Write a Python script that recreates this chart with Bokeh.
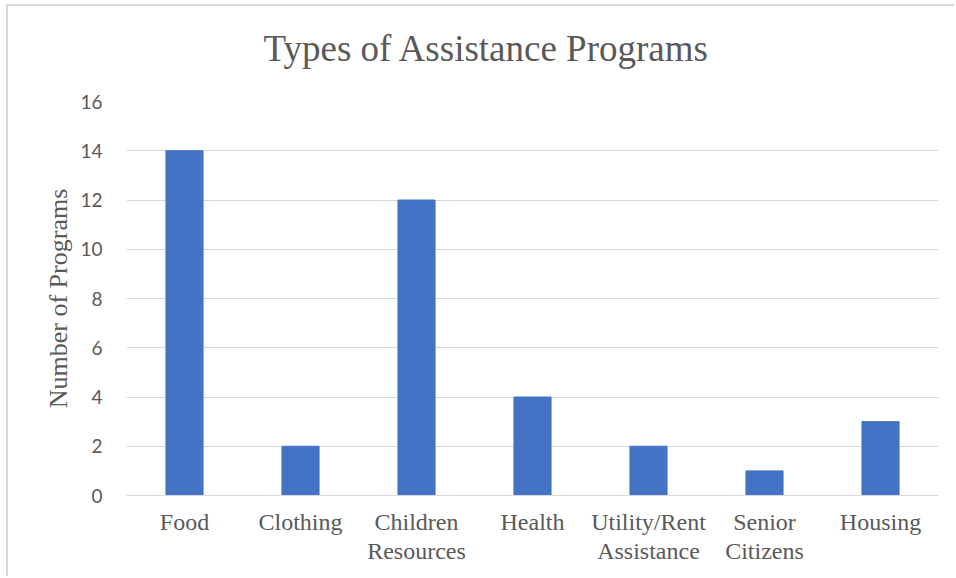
from bokeh.plotting import figure
from bokeh.embed import file_html
from bokeh.resources import INLINE
from bokeh.models import ColumnDataSource, Range1d, FixedTicker, CategoricalAxis, FactorRange

categories = ["Food", "Clothing", "Children Resources", "Health",
              "Utility/Rent Assistance", "Senior Citizens", "Housing"]
label_line1 = ["Food", "Clothing", "Children", "Health",
               "Utility/Rent", "Senior", "Housing"]
label_line2 = ["", "", "Resources", "", "Assistance", "Citizens", ""]
counts = [14, 2, 12, 4, 2, 1, 3]

# blank second-line labels must still be unique factors
line2_factors = [t if t else " " * (i + 1) for i, t in enumerate(label_line2)]

src = ColumnDataSource(dict(cat=categories, val=counts))

p = figure(x_range=FactorRange(*categories), y_range=Range1d(0, 16),
           x_axis_location=None,
           width=948, height=572, output_backend="svg", toolbar_location=None,
           min_border_left=118, min_border_right=18, min_border_top=95,
           min_border_bottom=83)
p.extra_x_ranges = {"l1": FactorRange(*label_line1), "l2": FactorRange(*line2_factors)}
p.styles = {"border-left": "2px solid #d9d9d9", "border-top": "2px solid #d9d9d9",
            "margin-left": "6px", "margin-top": "4px"}
p.vbar(x="cat", top="val", width=0.32, source=src, color="#4472C4")

p.title.text = "Types of Assistance Programs"
p.title.text_font = "Liberation Serif"
p.title.text_font_size = "37px"
p.title.text_font_style = "normal"
p.title.text_color = "#595959"
p.title.align = "left"
p.title.vertical_align = "top"
p.title.padding = dict(top=0, bottom=31, left=20, right=20)
p.title.offset = 117
p.title.standoff = 0

p.outline_line_color = None
p.xgrid.grid_line_color = None
p.ygrid.grid_line_color = "#d9d9d9"
p.ygrid.grid_line_width = 1

p.yaxis.ticker = FixedTicker(ticks=list(range(0, 17, 2)))
p.yaxis.axis_line_color = None
p.yaxis.major_tick_line_color = None
p.yaxis.minor_tick_line_color = None
p.yaxis.major_label_text_font = "Lato"
p.yaxis.major_label_text_font_size = "19px"
p.yaxis.major_label_text_color = "#595959"
p.yaxis.major_label_standoff = 18
p.yaxis.axis_label = "Number of Programs"
p.yaxis.axis_label_text_font = "Liberation Serif"
p.yaxis.axis_label_text_font_size = "26px"
p.yaxis.axis_label_text_font_style = "normal"
p.yaxis.axis_label_text_color = "#595959"
p.yaxis.axis_label_standoff = 4


def make_axis(rng, standoff, line_color):
    ax = CategoricalAxis(x_range_name=rng)
    ax.axis_line_color = line_color
    ax.major_tick_line_color = None
    ax.minor_tick_line_color = None
    ax.major_label_text_font = "Liberation Serif"
    ax.major_label_text_font_size = "24px"
    ax.major_label_text_color = "#595959"
    ax.major_label_standoff = standoff
    ax.major_label_orientation = "horizontal"
    return ax


p.add_layout(make_axis("l1", 7, "#d9d9d9"), "below")
p.add_layout(make_axis("l2", -6, None), "below")

open("out.html", "w").write(file_html(p, INLINE))
